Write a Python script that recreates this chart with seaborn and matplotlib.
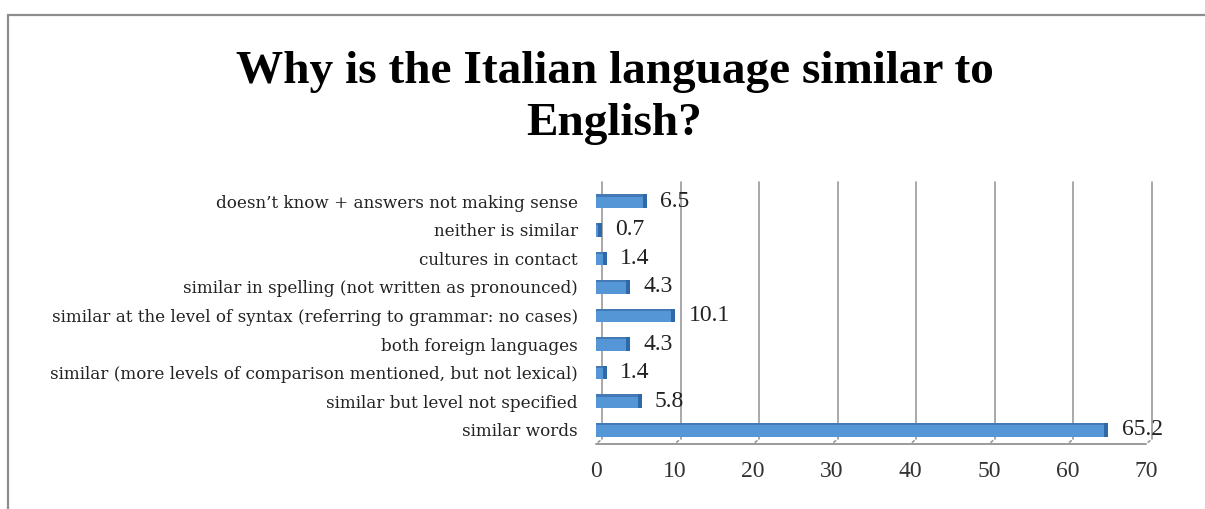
import matplotlib
matplotlib.use("Agg")
import matplotlib.pyplot as plt
import matplotlib.transforms as mtransforms
import seaborn as sns
import pandas as pd

categories = [
    "doesn’t know + answers not making sense",
    "neither is similar",
    "cultures in contact",
    "similar in spelling (not written as pronounced)",
    "similar at the level of syntax (referring to grammar: no cases)",
    "both foreign languages",
    "similar (more levels of comparison mentioned, but not lexical)",
    "similar but level not specified",
    "similar words",
]
values = [6.5, 0.7, 1.4, 4.3, 10.1, 4.3, 1.4, 5.8, 65.2]
value_labels = ["6.5", "0.7", "1.4", "4.3", "10.1", "4.3", "1.4", "5.8", "65.2"]
x_ticks = [0, 10, 20, 30, 40, 50, 60, 70]
title = "Why is the Italian language similar to\nEnglish?"

df = pd.DataFrame({"category": categories, "value": values})

sns.set_theme(style="white")
plt.rcParams["font.family"] = ["Liberation Serif", "DejaVu Serif"]

W, H = 1205, 509
fig = plt.figure(figsize=(W / 100, H / 100), dpi=100)

# chart frame
frame = plt.Rectangle((8 / W, -0.05), 1.2, (H - 15) / H + 0.05, transform=fig.transFigure,
                      fill=False, edgecolor="#8c8c8c", linewidth=1.6)
fig.add_artist(frame)

ax = fig.add_axes([596 / W, (H - 444) / H, 550 / W, 257 / H])
bar_color = "#5596D6"
bar_h = 0.48
sns.barplot(data=df, x="value", y="category", orient="h", color=bar_color,
            width=bar_h, saturation=1, ax=ax, edgecolor="none")
ax.set_xlim(0, 70)
ax.set_ylim(8.5, -0.5)

# darker top edge and end caps give the bars a 3-D look
for i, v in enumerate(values):
    ax.barh(i - bar_h / 2 + 0.04, v, height=0.08, color="#4379B5", edgecolor="none", zorder=3)
    ax.barh(i, 0.5, left=v - 0.5, height=bar_h, color="#2E6AA8", edgecolor="none", zorder=3)
    ax.text(v + 1.7, i, value_labels[i], va="center", ha="left", fontsize=17,
            color="#222222", zorder=5)

# back wall gridlines, shifted up/right for depth
depth = mtransforms.ScaledTranslation(6 / 100, 5 / 100, fig.dpi_scale_trans)
for xv in x_ticks:
    ax.plot([xv, xv], [8.5, -0.5], color="#9a9a9a", linewidth=1.2, zorder=0,
            transform=ax.transData + depth, clip_on=False)
    # slanted floor joints
    ax.annotate("", xy=(xv, 8.5), xytext=(6, 5), textcoords="offset pixels",
                xycoords="data", arrowprops=dict(arrowstyle="-", color="#9a9a9a", lw=1.2))
# floor front edge
ax.plot([0, 70], [8.5, 8.5], color="#9a9a9a", linewidth=1.4, clip_on=False, zorder=1)

for s in ax.spines.values():
    s.set_visible(False)
ax.set_xlabel("")
ax.set_ylabel("")
ax.set_xticks(x_ticks)
ax.set_xticklabels([str(t) for t in x_ticks], fontsize=17, color="#333333")
ax.tick_params(axis="x", length=0, pad=12)
ax.tick_params(axis="y", length=0, pad=13)
for lbl in ax.get_yticklabels():
    lbl.set_fontfamily(["DejaVu Serif"])
    lbl.set_fontsize(12.1)
    lbl.set_color("#222222")

fig.text(0.51, 0.90, title, ha="center", va="top", fontsize=34, fontweight="bold",
         linespacing=1.33, color="black")

fig.savefig("out.png", dpi=100)
